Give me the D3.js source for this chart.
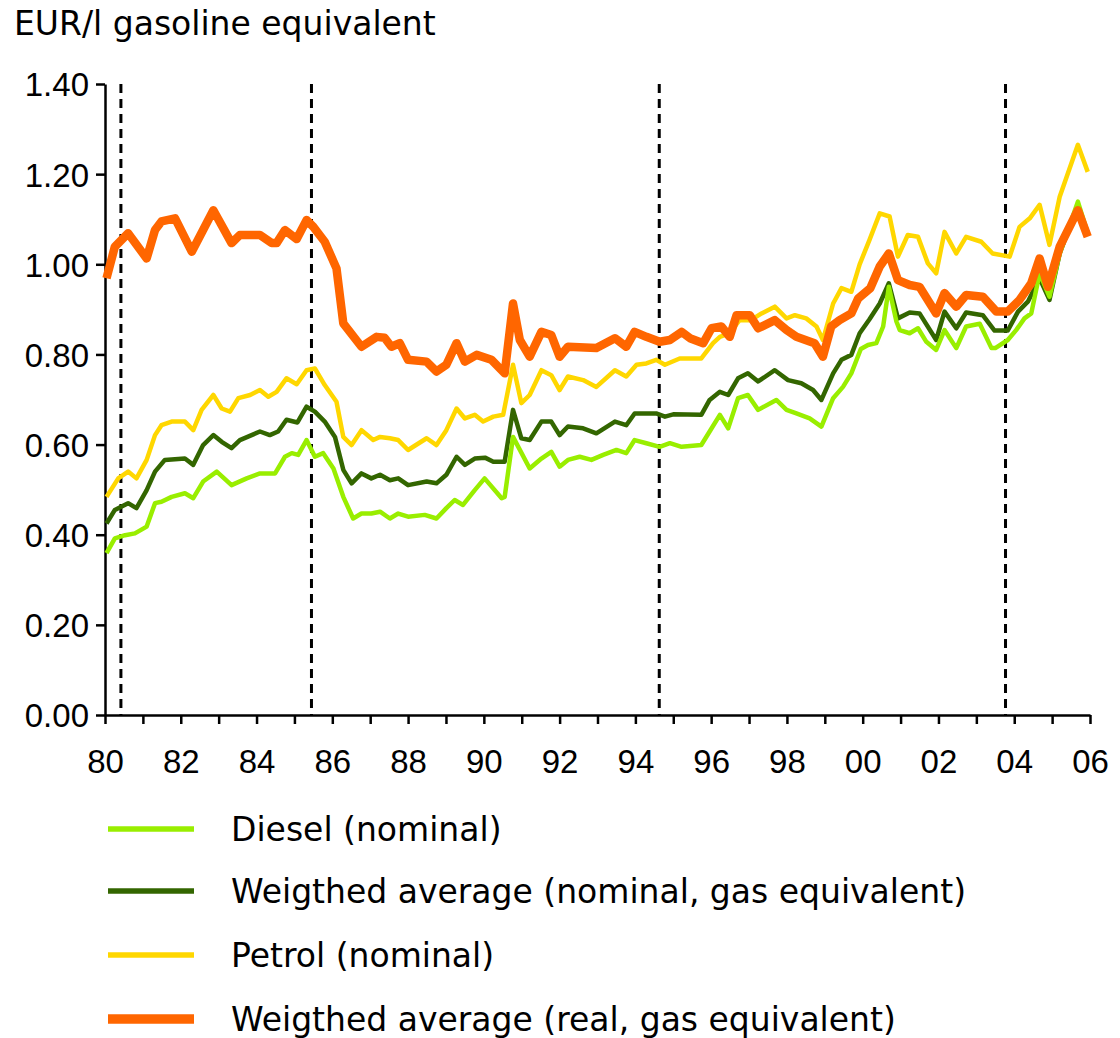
<!DOCTYPE html>
<html>
<head>
<meta charset="utf-8">
<script src="https://cdn.jsdelivr.net/npm/d3@7"></script>
<style>
  html,body{margin:0;padding:0;background:#fff;}
  svg{display:block;font-family:"DejaVu Sans",Verdana,sans-serif;}
</style>
</head>
<body>
<div id="chart"></div>
<script>
// ---- data (year, EUR/l gasoline equivalent) ----
const diesel=[[1980.04,0.359],[1980.26,0.392],[1980.53,0.399],[1980.79,0.403],[1981.10,0.418],[1981.32,0.470],[1981.49,0.473],[1981.76,0.484],[1982.11,0.492],[1982.33,0.481],[1982.59,0.518],[1982.95,0.540],[1983.34,0.510],[1983.74,0.525],[1984.09,0.536],[1984.49,0.536],[1984.75,0.573],[1984.93,0.581],[1985.10,0.577],[1985.32,0.610],[1985.54,0.573],[1985.76,0.581],[1986.03,0.547],[1986.29,0.484],[1986.55,0.436],[1986.77,0.447],[1987.03,0.447],[1987.26,0.451],[1987.52,0.436],[1987.74,0.447],[1988.00,0.440],[1988.44,0.444],[1988.75,0.436],[1989.01,0.459],[1989.23,0.477],[1989.45,0.466],[1989.76,0.499],[1990.02,0.525],[1990.47,0.481],[1990.55,0.484],[1990.77,0.617],[1991.21,0.547],[1991.52,0.569],[1991.78,0.584],[1992.00,0.551],[1992.22,0.566],[1992.53,0.573],[1992.84,0.566],[1993.15,0.577],[1993.50,0.588],[1993.76,0.581],[1993.98,0.610],[1994.29,0.603],[1994.64,0.595],[1994.91,0.603],[1995.22,0.595],[1995.74,0.599],[1995.96,0.629],[1996.23,0.666],[1996.45,0.636],[1996.71,0.703],[1996.97,0.710],[1997.24,0.677],[1997.72,0.699],[1997.99,0.677],[1998.25,0.669],[1998.60,0.658],[1998.91,0.640],[1999.22,0.703],[1999.48,0.728],[1999.70,0.758],[1999.95,0.812],[2000.14,0.821],[2000.36,0.825],[2000.54,0.862],[2000.69,0.950],[2000.89,0.873],[2000.98,0.854],[2001.24,0.847],[2001.46,0.858],[2001.68,0.828],[2001.94,0.810],[2002.16,0.854],[2002.47,0.814],[2002.73,0.862],[2003.09,0.868],[2003.40,0.814],[2003.50,0.814],[2003.83,0.832],[2004.05,0.854],[2004.27,0.880],[2004.45,0.891],[2004.67,0.980],[2004.93,0.928],[2005.20,1.024],[2005.68,1.139],[2005.94,1.069]];

const weightedNominal=[[1980.04,0.425],[1980.26,0.455],[1980.61,0.470],[1980.83,0.459],[1981.10,0.499],[1981.32,0.540],[1981.58,0.566],[1982.11,0.569],[1982.33,0.555],[1982.59,0.599],[1982.86,0.621],[1983.08,0.606],[1983.34,0.592],[1983.56,0.610],[1984.09,0.629],[1984.35,0.621],[1984.57,0.629],[1984.79,0.655],[1985.08,0.649],[1985.32,0.684],[1985.54,0.673],[1985.80,0.651],[1986.07,0.617],[1986.29,0.544],[1986.51,0.514],[1986.77,0.536],[1987.03,0.525],[1987.26,0.533],[1987.52,0.521],[1987.74,0.525],[1988.00,0.510],[1988.49,0.518],[1988.75,0.514],[1989.01,0.533],[1989.28,0.573],[1989.50,0.555],[1989.76,0.569],[1990.03,0.571],[1990.25,0.562],[1990.55,0.562],[1990.77,0.677],[1990.99,0.614],[1991.21,0.610],[1991.52,0.651],[1991.78,0.651],[1992.00,0.621],[1992.22,0.640],[1992.62,0.636],[1992.97,0.625],[1993.46,0.651],[1993.76,0.643],[1993.98,0.669],[1994.55,0.669],[1994.78,0.662],[1995.00,0.667],[1995.74,0.666],[1995.96,0.699],[1996.23,0.717],[1996.45,0.710],[1996.71,0.747],[1996.97,0.758],[1997.24,0.740],[1997.68,0.765],[1998.03,0.743],[1998.38,0.736],[1998.69,0.721],[1998.91,0.699],[1999.22,0.758],[1999.44,0.788],[1999.70,0.799],[1999.92,0.847],[2000.18,0.878],[2000.45,0.913],[2000.69,0.958],[2000.93,0.880],[2001.24,0.893],[2001.50,0.891],[2001.94,0.832],[2002.16,0.895],[2002.47,0.858],[2002.73,0.893],[2003.17,0.887],[2003.48,0.853],[2003.83,0.853],[2004.10,0.895],[2004.36,0.917],[2004.67,0.969],[2004.93,0.921],[2005.20,1.024],[2005.68,1.132],[2005.94,1.065]];

const petrol=[[1980.04,0.484],[1980.35,0.525],[1980.61,0.540],[1980.83,0.525],[1981.10,0.566],[1981.32,0.621],[1981.49,0.643],[1981.76,0.651],[1982.11,0.651],[1982.33,0.632],[1982.55,0.677],[1982.86,0.710],[1983.08,0.680],[1983.30,0.673],[1983.52,0.703],[1983.83,0.710],[1984.09,0.721],[1984.31,0.706],[1984.53,0.717],[1984.79,0.747],[1985.06,0.734],[1985.32,0.765],[1985.54,0.769],[1985.80,0.732],[1986.11,0.695],[1986.29,0.617],[1986.51,0.599],[1986.77,0.632],[1987.08,0.610],[1987.26,0.617],[1987.52,0.614],[1987.74,0.610],[1988.00,0.588],[1988.49,0.614],[1988.75,0.599],[1989.01,0.632],[1989.28,0.680],[1989.50,0.658],[1989.76,0.666],[1989.98,0.651],[1990.25,0.662],[1990.51,0.666],[1990.77,0.777],[1990.99,0.692],[1991.21,0.710],[1991.52,0.765],[1991.78,0.754],[1992.00,0.721],[1992.22,0.751],[1992.62,0.743],[1992.97,0.728],[1993.46,0.765],[1993.76,0.751],[1994.03,0.777],[1994.29,0.780],[1994.55,0.788],[1994.78,0.777],[1995.17,0.791],[1995.74,0.791],[1996.05,0.825],[1996.23,0.839],[1996.49,0.847],[1996.75,0.876],[1997.05,0.876],[1997.33,0.891],[1997.68,0.906],[1997.99,0.880],[1998.21,0.887],[1998.51,0.880],[1998.78,0.862],[1998.95,0.832],[1999.22,0.913],[1999.44,0.947],[1999.70,0.939],[1999.92,1.000],[2000.18,1.054],[2000.45,1.113],[2000.71,1.106],[2000.93,1.017],[2001.19,1.065],[2001.46,1.061],[2001.72,1.002],[2001.94,0.980],[2002.16,1.072],[2002.47,1.024],[2002.73,1.061],[2003.13,1.050],[2003.43,1.024],[2003.88,1.017],[2004.14,1.083],[2004.41,1.102],[2004.67,1.132],[2004.93,1.043],[2005.20,1.150],[2005.68,1.265],[2005.94,1.205]];

const weightedReal=[[1980.04,0.969],[1980.26,1.039],[1980.61,1.069],[1981.10,1.013],[1981.32,1.076],[1981.49,1.095],[1981.85,1.102],[1982.29,1.028],[1982.86,1.120],[1983.34,1.047],[1983.56,1.065],[1984.09,1.065],[1984.40,1.047],[1984.53,1.047],[1984.75,1.076],[1985.06,1.056],[1985.32,1.098],[1985.50,1.083],[1985.80,1.050],[1986.11,0.991],[1986.29,0.869],[1986.77,0.817],[1987.17,0.839],[1987.38,0.837],[1987.56,0.817],[1987.78,0.825],[1988.00,0.788],[1988.49,0.784],[1988.75,0.762],[1989.01,0.777],[1989.28,0.825],[1989.50,0.784],[1989.81,0.799],[1990.20,0.788],[1990.55,0.758],[1990.77,0.913],[1990.95,0.832],[1991.21,0.795],[1991.52,0.850],[1991.78,0.843],[1992.00,0.795],[1992.22,0.817],[1992.97,0.814],[1993.46,0.836],[1993.76,0.817],[1993.98,0.850],[1994.29,0.839],[1994.64,0.828],[1994.91,0.832],[1995.22,0.850],[1995.44,0.836],[1995.79,0.825],[1996.01,0.858],[1996.27,0.862],[1996.49,0.839],[1996.67,0.887],[1997.02,0.887],[1997.24,0.858],[1997.68,0.876],[1997.99,0.854],[1998.25,0.839],[1998.73,0.825],[1998.95,0.795],[1999.17,0.862],[1999.39,0.876],[1999.70,0.891],[1999.88,0.924],[2000.20,0.947],[2000.45,0.995],[2000.69,1.024],[2000.93,0.965],[2001.24,0.954],[2001.50,0.950],[2001.94,0.891],[2002.16,0.936],[2002.47,0.906],[2002.73,0.932],[2003.17,0.928],[2003.53,0.895],[2003.83,0.895],[2004.14,0.921],[2004.45,0.958],[2004.67,1.013],[2004.89,0.950],[2005.20,1.039],[2005.68,1.120],[2005.94,1.061]];

const breakYears=[1980.42,1985.45,1994.63,2003.77];
const yTicks=[0,0.2,0.4,0.6,0.8,1.0,1.2,1.4];
const xLabelYears=[1980,1982,1984,1986,1988,1990,1992,1994,1996,1998,2000,2002,2004,2006];

const seriesNames=['Diesel (nominal)','Weigthed average (nominal, gas equivalent)','Petrol (nominal)','Weigthed average (real, gas equivalent)'];
const seriesData=[diesel,weightedNominal,petrol,weightedReal];

// ---- styles ----
const COLORS=['#99ee00','#336600','#ffd700','#ff6600'];
const WIDTHS=[4.5,4.5,4.5,8.5];
const FONT=33;

const W=1120,H=1038;
const m={top:84,left:105,right:30,bottom:323};
const iw=W-m.left-m.right, ih=H-m.top-m.bottom;

const svg=d3.select('#chart').append('svg').attr('width',W).attr('height',H);

svg.append('text').attr('x',14).attr('y',35)
  .style('font-size',FONT+'px').attr('fill','#000')
  .text('EUR/l gasoline equivalent');

const g=svg.append('g').attr('transform',`translate(${m.left},${m.top})`);

const x=d3.scaleLinear().domain([1980,2006]).range([0,iw]);
const y=d3.scaleLinear().domain([0,1.4]).range([ih,0]);

// x axis: tick every year, label every 2 years
const xAxis=g.append('g').attr('transform',`translate(0,${ih})`)
  .call(d3.axisBottom(x).tickValues(d3.range(1980,2007,1)).tickSize(9).tickSizeOuter(0)
    .tickFormat(d=>xLabelYears.includes(d)?String(d).slice(2):''));
xAxis.selectAll('text').attr('y',0).attr('dy','1.75em').style('font-size',FONT+'px').style('font-family','inherit').attr('fill','#000');

const yAxis=g.append('g')
  .call(d3.axisLeft(y).tickValues(yTicks).tickSize(9).tickSizeOuter(0).tickFormat(d3.format('.2f')));
yAxis.selectAll('text').attr('x',-16).attr('dy','0.36em').style('font-size',FONT+'px').style('font-family','inherit').attr('fill','#000');

g.selectAll('.domain').attr('stroke','#000').attr('stroke-width',2.5);
g.selectAll('.tick line').attr('stroke','#000').attr('stroke-width',2.5);

// event markers
g.selectAll('.brk').data(breakYears).enter().append('line')
  .attr('x1',d=>x(d)).attr('x2',d=>x(d)).attr('y1',0).attr('y2',ih)
  .attr('stroke','#000').attr('stroke-width',3).attr('stroke-dasharray','9,6');

// lines
const line=d3.line().x(d=>x(d[0])).y(d=>y(d[1]));
const order=[1,0,2,3];
order.forEach(i=>{
  g.append('path').datum(seriesData[i]).attr('d',line)
    .attr('fill','none').attr('stroke',COLORS[i]).attr('stroke-width',WIDTHS[i])
    .attr('stroke-linejoin','round');
});

// legend
const legY=[829,891,955,1019];
const leg=svg.append('g');
seriesNames.forEach((name,i)=>{
  leg.append('line').attr('x1',108).attr('x2',194).attr('y1',legY[i]).attr('y2',legY[i])
    .attr('stroke',COLORS[i]).attr('stroke-width',WIDTHS[i]+1);
  leg.append('text').attr('x',231).attr('y',legY[i]).attr('dy','0.36em')
    .style('font-size',FONT+'px').attr('fill','#000').text(name);
});
</script>
</body>
</html>
